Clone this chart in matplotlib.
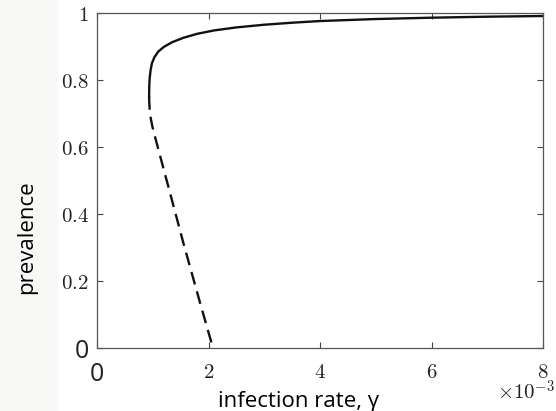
import numpy as np
import matplotlib.pyplot as plt
import matplotlib.patches as mpatches

plt.rcParams['mathtext.fontset'] = 'cm'

# stable branch (solid) and unstable branch (dashed), gamma in units of 1e-3
gamma_stable = np.array([0.935, 0.937, 0.945, 0.960, 0.985, 1.03, 1.10, 1.20, 1.35, 1.55,
                         1.80, 2.10, 2.50, 3.00, 3.50, 4.00, 5.00, 6.00, 7.00, 8.00]) * 1e-3
prev_stable = np.array([0.750, 0.780, 0.805, 0.828, 0.850, 0.868, 0.885, 0.899, 0.913, 0.926,
                        0.938, 0.948, 0.957, 0.965, 0.971, 0.976, 0.982, 0.986, 0.989, 0.991])

gamma_unstable = np.array([0.935, 0.937, 0.945, 0.965, 0.995, 1.03, 1.07, 1.20, 1.31,
                           1.55, 1.85, 2.08]) * 1e-3
prev_unstable = np.array([0.750, 0.735, 0.712, 0.685, 0.660, 0.637, 0.612, 0.531, 0.463,
                          0.313, 0.134, 0.000])

xticks = [0, 0.002, 0.004, 0.006, 0.008]
xticklabels = ['0', '$2$', '$4$', '$6$', '$8$']
yticks = [0, 0.2, 0.4, 0.6, 0.8, 1]
yticklabels = ['0', '$0.2$', '$0.4$', '$0.6$', '$0.8$', '$1$']

fig = plt.figure(figsize=(5.56, 4.11), dpi=100)
fig.patches.append(mpatches.Rectangle((0, 0), 57 / 556, 1, transform=fig.transFigure,
                                      color='#f8f8f6', zorder=-1))
ax = fig.add_axes([97 / 556, 1 - 348 / 411, 446 / 556, 335 / 411])

ax.plot(gamma_stable, prev_stable, color='#111111', lw=1.7)
ax.plot(gamma_unstable, prev_unstable, color='#111111', lw=1.7, ls=(0, (5.5, 3)))

ax.set_xlim(0, 0.008)
ax.set_ylim(0, 1)
ax.set_xticks(xticks, xticklabels)
ax.set_yticks(yticks, yticklabels)
ax.tick_params(direction='in', length=4, width=0.8, colors='#444444', labelcolor='#222222',
               labelsize=15, top=True, right=True)
ax.tick_params(axis='y', pad=6)
ax.tick_params(axis='x', pad=10)
for spine in ax.spines.values():
    spine.set_color('#555555')
    spine.set_linewidth(0.9)

# the zero labels are in the sans font
xl0 = ax.get_xticklabels()[0]
yl0 = ax.get_yticklabels()[0]
for lab in (xl0, yl0):
    lab.set_fontfamily('Open Sans')
    lab.set_fontsize(18)

ax.text((555 - 97) / 446, (348 - 380) / 335, r'$\times 10^{-3}$', transform=ax.transAxes,
        ha='right', va='top', fontsize=15, color='#222222')

ax.text((299 - 97) / 446, (348 - 407) / 335, 'infection rate, \u03b3', transform=ax.transAxes,
        ha='center', va='baseline', fontfamily='Open Sans', fontsize=16)
ax.text((27 - 97) / 446, (348 - 237) / 335, 'prevalence', transform=ax.transAxes,
        ha='center', va='center', rotation=90, fontfamily='Open Sans', fontsize=16)

fig.savefig('out.png', dpi=100)
